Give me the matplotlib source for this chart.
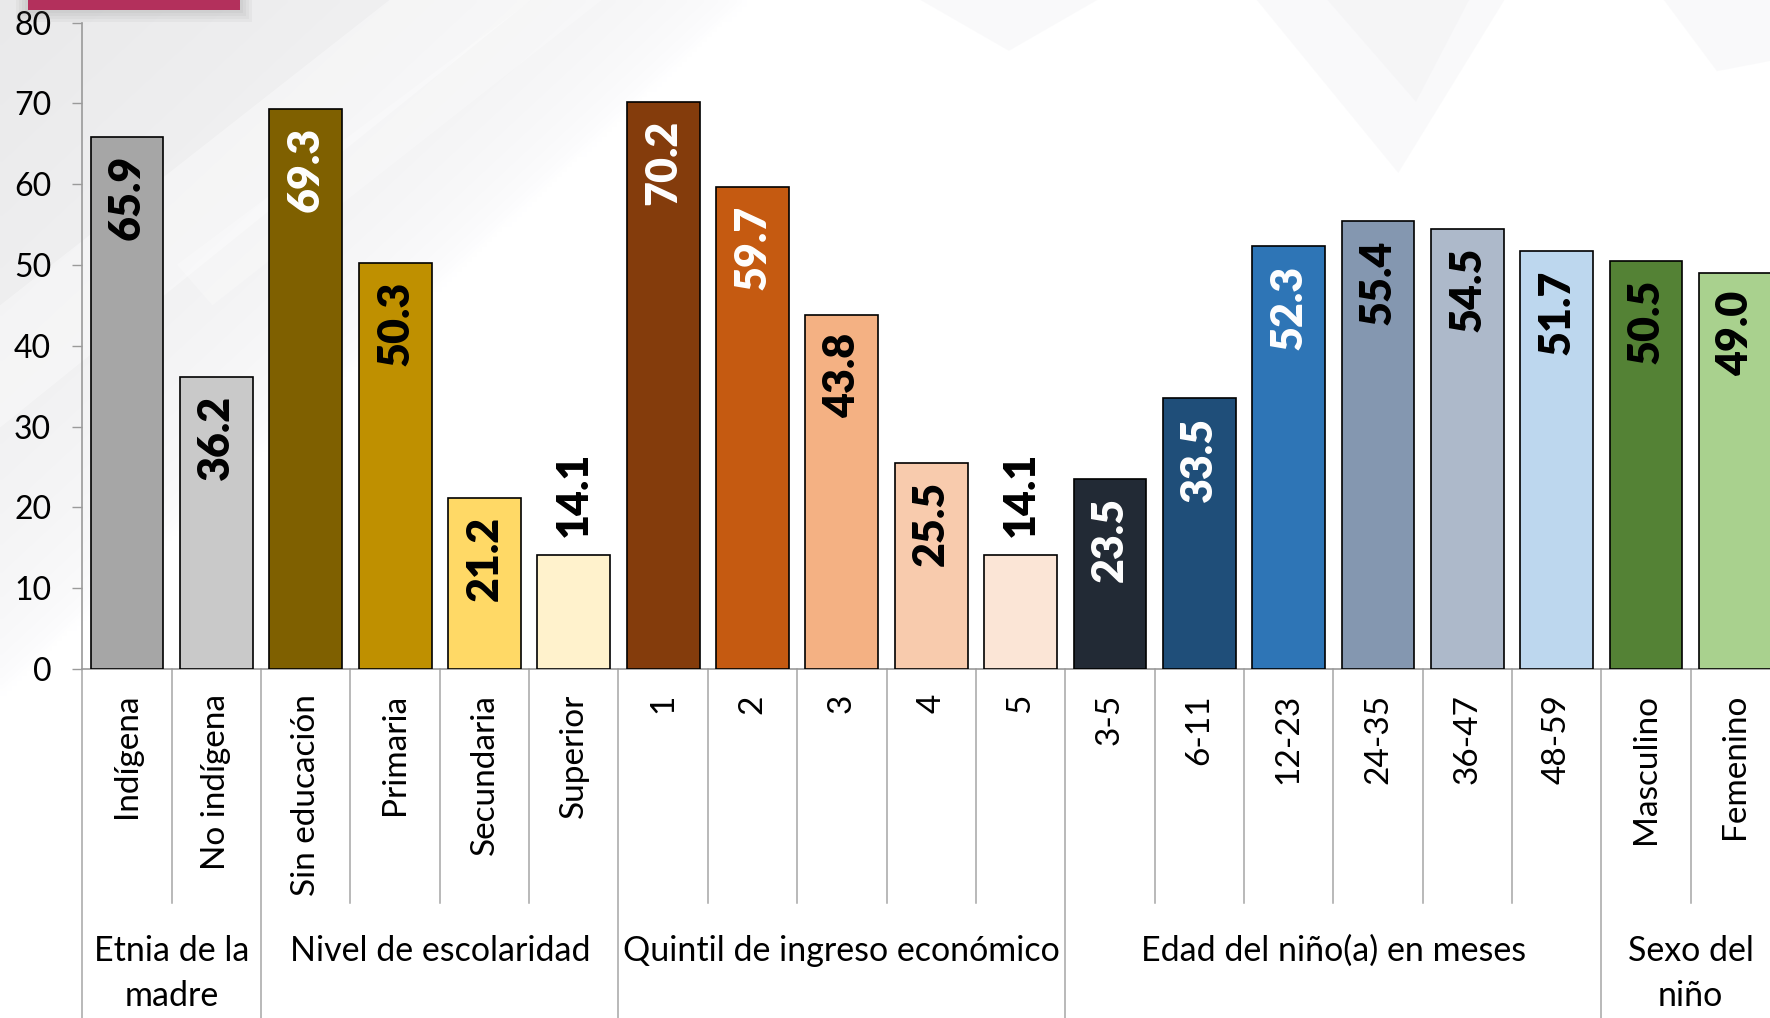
import matplotlib
matplotlib.use("Agg")
import matplotlib.pyplot as plt
import matplotlib.transforms as mtransforms
from matplotlib.patches import Rectangle, Polygon
import numpy as np

# Categories, values and colours
categories = ["Indígena", "No indígena",
              "Sin educación", "Primaria", "Secundaria", "Superior",
              "1", "2", "3", "4", "5",
              "3-5", "6-11", "12-23", "24-35", "36-47", "48-59",
              "Masculino", "Femenino"]
values = [65.9, 36.2,
          69.3, 50.3, 21.2, 14.1,
          70.2, 59.7, 43.8, 25.5, 14.1,
          23.5, 33.5, 52.3, 55.4, 54.5, 51.7,
          50.5, 49.0]
bar_colors = ["#A6A6A6", "#C9C9C9",
              "#7F6000", "#BF9000", "#FFD966", "#FFF2CC",
              "#843C0C", "#C55A11", "#F4B183", "#F8CBAD", "#FBE5D6",
              "#222A35", "#1F4E79", "#2E75B6", "#8497B0", "#ADB9CA", "#BDD7EE",
              "#548235", "#A9D18E"]
label_colors = ["black", "black",
                "white", "black", "black", "black",
                "white", "white", "black", "black", "black",
                "white", "white", "white", "black", "black", "black",
                "black", "black"]
groups = ["Etnia de la\nmadre", "Nivel de escolaridad",
          "Quintil de ingreso económico", "Edad del niño(a) en meses",
          "Sexo del\nniño"]
group_sizes = [2, 4, 5, 6, 2]

plt.rcParams["font.family"] = ["Lato", "DejaVu Sans"]

W, H = 1770, 1018
fig = plt.figure(figsize=(W / 100, H / 100), dpi=100)
fig.patch.set_facecolor("white")

# background: soft grey wash top-left plus faint chevrons
bg = fig.add_axes([0, 0, 1, 1], zorder=-5)
bg.set_xlim(0, 1)
bg.set_ylim(1, 0)
bg.axis("off")
u, v = np.meshgrid(np.linspace(0, 1, 354), np.linspace(0, 1, 204))
wash = np.clip(1 - (u / 0.42 + v / 0.68), 0, 1) ** 0.5
img = 1 - 0.085 * wash
bg.imshow(np.dstack([img, img, img + 0.004]).clip(0, 1), extent=(0, 1, 1, 0),
          aspect="auto", interpolation="bilinear")
for pts, a in [
    ([(0.0, 0.30), (0.22, 0.0), (0.30, 0.0), (0.0, 0.42)], 0.35),
    ([(0.10, 0.26), (0.30, 0.0), (0.34, 0.0), (0.12, 0.30)], 0.25),
]:
    bg.add_patch(Polygon(pts, closed=True, facecolor="white", edgecolor="none", alpha=a))
for pts in [
    [(0.52, 0.0), (0.62, 0.0), (0.57, 0.05)],
    [(0.71, 0.0), (0.85, 0.0), (0.79, 0.17)],
    [(0.75, 0.0), (0.83, 0.0), (0.80, 0.10)],
    [(0.94, 0.0), (1.0, 0.0), (1.0, 0.06), (0.97, 0.07)],
]:
    bg.add_patch(Polygon(pts, closed=True, facecolor="#E8E8EC", edgecolor="none", alpha=0.22))

# crimson title strip at the top-left corner, with a soft shadow
for k in range(4):
    off = (k + 1) * 3
    fig.patches.append(Rectangle(((28 - off) / W, 1 - (10 + off) / H), (212 + 2 * off) / W,
                                 (10 + off) / H, transform=fig.transFigure,
                                 facecolor="#606060", edgecolor="none", alpha=0.05, zorder=1))
fig.patches.append(Rectangle((28 / W, 1 - 10 / H), 212 / W, 10 / H, transform=fig.transFigure,
                             facecolor="#B3305C", edgecolor="none", zorder=2))

# main axes: 19 categories of ~89.35 px, zero line at y=669 px, 80 at y=22.6 px
step = 89.35
ax = fig.add_axes([82.4 / W, 1 - 669 / H, len(categories) * step / W, (669 - 22.6) / H])
ax.set_facecolor("none")
x = np.arange(len(categories))
ax.bar(x, values, width=0.815, color=bar_colors, edgecolor="black", linewidth=1.2, zorder=3)
ax.set_xlim(-0.5, len(categories) - 0.5)
ax.set_ylim(0, 80)

ax.set_yticks(range(0, 81, 10))
ax.tick_params(axis="y", labelsize=23, length=7.5, pad=15, color="#9A9A9A", width=1)
ax.set_xticks(x)
ax.set_xticklabels(categories, rotation=90, fontsize=24)
ax.tick_params(axis="x", length=0, pad=18)
for s in ["top", "right"]:
    ax.spines[s].set_visible(False)
for s in ["left", "bottom"]:
    ax.spines[s].set_color("#9A9A9A")
    ax.spines[s].set_linewidth(1.2)

# value labels: inside the bar end, outside for the short bars
for xi, val, lc in zip(x, values, label_colors):
    if val < 20:
        ax.annotate(f"{val:.1f}", (xi, val), xytext=(0, 13), textcoords="offset points",
                    rotation=90, ha="center", va="bottom", fontsize=31,
                    fontweight="heavy", color="black", zorder=4)
    else:
        ax.annotate(f"{val:.1f}", (xi, val), xytext=(0, -13), textcoords="offset points",
                    rotation=90, ha="center", va="top", fontsize=31,
                    fontweight="heavy", color=lc, zorder=4)

# category dividers and group labels under the axis
trans = mtransforms.blended_transform_factory(ax.transData, ax.transAxes)
axis_h = 669 - 22.6
inner_bottom = -(903 - 669) / axis_h
group_bottom = -(1018 - 669) / axis_h
edges = np.cumsum([0] + group_sizes) - 0.5
for b in np.arange(len(categories) + 1) - 0.5:
    bottom = group_bottom if np.any(np.isclose(edges, b)) else inner_bottom
    ax.plot([b, b], [0, bottom], transform=trans, color="#A6A6A6", lw=1.1,
            clip_on=False, zorder=1)

for name, lo, hi in zip(groups, edges[:-1], edges[1:]):
    ax.text((lo + hi) / 2, -(935 - 669) / axis_h, name, transform=trans,
            ha="center", va="top", fontsize=24.5, linespacing=1.5)

fig.savefig("out.png", dpi=100)
